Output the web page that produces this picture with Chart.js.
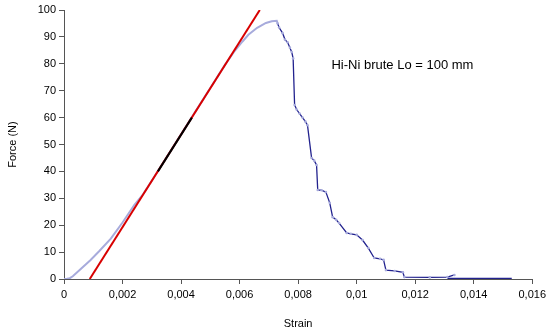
<!DOCTYPE html>
<html><head><meta charset="utf-8">
<script src="https://cdn.jsdelivr.net/npm/chart.js@4"></script>
<style>html,body{margin:0;padding:0;background:#fff}#wrap{width:550px;height:335px}</style>
</head><body><div id="wrap"><canvas id="c" width="550" height="335"></canvas></div>
<script>
// Loading branch (strain, force)
const loadStrain = [0, 0.0001, 0.0002, 0.0003, 0.0006, 0.0009, 0.0012, 0.0016, 0.0020, 0.0024, 0.0027, 0.0030, 0.0035, 0.0040, 0.0045, 0.0050, 0.0055, 0.0058, 0.0061, 0.0063, 0.0066, 0.0069, 0.0071, 0.00727, 0.0073];
const loadForce  = [0, 0.1, 0.3, 1.0, 4.0, 7.0, 10.3, 15.0, 21.0, 27.5, 31.5, 36.5, 45.2, 53.8, 62.4, 71.0, 79.6, 84.3, 88.3, 90.8, 93.4, 95.2, 95.8, 96.0, 95.0];
// Post-peak branch
const dropStrain = [0.0073, 0.00735, 0.00747, 0.00755, 0.00764, 0.00772, 0.00778, 0.00783, 0.00788, 0.00795, 0.00805, 0.00815, 0.00825, 0.00832, 0.00846, 0.00855, 0.00863, 0.00867, 0.0088, 0.00895, 0.00908, 0.00918, 0.0093, 0.0094, 0.00966, 0.0098, 0.0100, 0.0102, 0.0104, 0.0106, 0.0108, 0.01092, 0.0110, 0.0113, 0.01158, 0.01163, 0.0125, 0.0131, 0.01334];
const dropForce  = [95.0, 93.5, 91.4, 89.0, 88.0, 86.0, 84.4, 82.0, 64.7, 63.0, 61.5, 60.0, 58.5, 57.2, 45.0, 44.0, 42.4, 33.1, 33.0, 32.3, 28.3, 23.0, 22.0, 20.8, 17.1, 16.8, 16.4, 14.5, 11.5, 7.8, 7.5, 7.1, 3.3, 3.0, 2.5, 0.7, 0.6, 0.7, 1.5];
const tailStrain = [0.0131, 0.0153];
const tailForce  = [0.2, 0.2];
// Linear fit (red) and fitting range (black)
const fitStrain = [0.00088, 0.00669];
const fitForce  = [0, 100];
const rangeStrain = [0.00321, 0.00437];
const rangeForce  = [40, 60];
const xTicks = [0, 0.002, 0.004, 0.006, 0.008, 0.01, 0.012, 0.014, 0.016];
const xTickLabels = ['0', '0,002', '0,004', '0,006', '0,008', '0,01', '0,012', '0,014', '0,016'];
const yTicks = [0, 10, 20, 30, 40, 50, 60, 70, 80, 90, 100];
const annotation = 'Hi-Ni brute Lo = 100 mm';

const pts = (xs, ys) => xs.map((x, i) => ({x, y: ys[i]}));
const FONT = 'Liberation Sans, Arial, sans-serif';

const annot = {
  id: 'annot',
  afterDatasetsDraw(chart) {
    const {ctx, scales} = chart;
    ctx.save();
    ctx.font = '13px ' + FONT;
    ctx.fillStyle = '#000';
    ctx.textBaseline = 'middle';
    ctx.textAlign = 'left';
    ctx.fillText(annotation, scales.x.getPixelForValue(0.00914), scales.y.getPixelForValue(79.5));
    ctx.restore();
  }
};

new Chart(document.getElementById('c'), {
  type: 'scatter',
  data: {
    datasets: [
      {data: pts(loadStrain, loadForce), showLine: true, borderColor: '#a7abdc', borderWidth: 2, pointRadius: 0, tension: 0, order: 3},
      {data: pts(dropStrain, dropForce), showLine: true, borderColor: '#22228e', borderWidth: 1.3, pointRadius: 1.3, pointBorderWidth: 0, pointBackgroundColor: '#a7abdc', order: 3},
      {data: pts(tailStrain, tailForce), showLine: true, borderColor: '#22228e', borderWidth: 1.3, pointRadius: 0, order: 3},
      {data: pts(fitStrain, fitForce), showLine: true, borderColor: '#d80000', borderWidth: 2, pointRadius: 0, order: 2},
      {data: pts(rangeStrain, rangeForce), showLine: true, borderColor: '#000000', borderWidth: 2, pointRadius: 0, order: 1}
    ]
  },
  options: {
    responsive: false,
    animation: false,
    layout: {padding: {top: 10, right: 17, left: 2, bottom: 0}},
    plugins: {legend: {display: false}, tooltip: {enabled: false}},
    scales: {
      x: {
        type: 'linear', min: 0, max: 0.016,
        afterBuildTicks(s) { s.ticks = xTicks.map(v => ({value: v})); },
        afterFit(s) { s.height = 56; },
        grid: {display: true, drawOnChartArea: false, drawTicks: true, tickLength: 5, color: '#555'},
        border: {color: '#555', width: 1},
        ticks: {color: '#000', font: {family: FONT, size: 11}, padding: 4, maxRotation: 0,
          callback: (v) => { const i = xTicks.findIndex(t => Math.abs(t - v) < 1e-9); return i >= 0 ? xTickLabels[i] : ''; }},
        title: {display: true, text: 'Strain', color: '#000', font: {family: FONT, size: 11}, padding: {top: 4, bottom: 4}}
      },
      y: {
        type: 'linear', min: 0, max: 100,
        afterBuildTicks(s) { s.ticks = yTicks.map(v => ({value: v})); },
        afterFit(s) { s.width = 62; },
        grid: {display: true, drawOnChartArea: false, drawTicks: true, tickLength: 5, color: '#555'},
        border: {color: '#555', width: 1},
        ticks: {color: '#000', font: {family: FONT, size: 11}, padding: 3},
        title: {display: true, text: 'Force (N)', color: '#000', font: {family: FONT, size: 11}, padding: {top: 4, bottom: 4}}
      }
    }
  },
  plugins: [annot]
});
</script></body></html>
